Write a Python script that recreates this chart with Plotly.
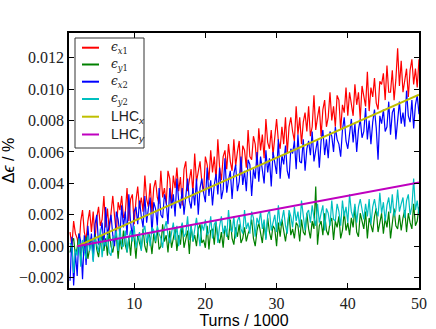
import plotly.graph_objects as go

# turns / 1000, one sample every 250 turns
turns = [1 + 0.25 * i for i in range(197)]

# emittance growth, in units of 1e-4 %
ex1 = [9, 0, 16, 8, 5, -2, 16, 23, 9, 4, 16, 23, 9, 22, 4, 18, 25, 13, 17, 32,
       12, 24, 10, 23, 32, 19, 8, 28, 23, 32, 18, 21, 37, 16, 30, 33, 14, 29, 38, 24,
       31, 22, 45, 30, 25, 40, 21, 37, 42, 31, 27, 48, 31, 37, 27, 48, 43, 26, 45, 37,
       50, 35, 44, 26, 49, 54, 35, 42, 49, 34, 59, 41, 48, 54, 41, 34, 57, 52, 42, 61,
       47, 57, 42, 68, 50, 42, 57, 61, 49, 65, 54, 48, 68, 51, 60, 67, 45, 64, 61, 50,
       74, 57, 55, 70, 65, 51, 75, 61, 71, 56, 81, 66, 62, 74, 58, 72, 81, 67, 62, 76,
       65, 82, 59, 76, 82, 73, 67, 89, 71, 82, 65, 79, 85, 73, 89, 70, 76, 96, 74, 82,
       89, 70, 87, 93, 76, 82, 98, 80, 89, 76, 96, 93, 74, 90, 85, 101, 83, 98, 90, 83,
       103, 90, 98, 81, 102, 96, 89, 111, 86, 101, 95, 107, 91, 87, 105, 103, 110, 93, 115, 98,
       98, 112, 93, 106, 126, 102, 118, 98, 106, 113, 95, 112, 119, 103, 113, 101, 119]

ey1 = [-4, 3, 5, -6, -1, 8, -8, 2, -4, 6, -8, 0, 5, -4, 8, -2, -7, 2, 7, -3,
       5, -6, 10, 0, -4, 3, 7, -8, 5, -2, 10, 1, -4, 6, -6, 9, 5, -8, 7, 2,
       -2, 11, 0, -4, 9, 5, -5, 8, 2, 11, -2, 0, 14, 3, 7, -4, 10, -1, 6, 11,
       -3, 7, 1, 14, -1, 4, 10, -5, 13, 3, 7, 0, 11, 14, 2, 4, -1, 13, -2, 10,
       11, 1, 15, 6, 2, 9, -1, 13, 9, 4, 17, 5, 1, 12, 6, 14, 2, 5, 12, 3,
       8, 11, 17, 5, 0, 10, 15, 7, 2, 14, 5, 18, 9, 4, 13, 11, 0, 15, 6, 17,
       9, 3, 12, 21, 7, 11, 5, 15, 13, 3, 17, 9, 7, 21, 11, 5, 16, 11, 38, 1,
       13, 16, 7, 21, 10, 7, 15, 18, 4, 16, 12, 19, 5, 10, 22, 10, 15, 7, 18, 12,
       25, 9, 6, 21, 16, 11, 22, 5, 18, 14, 9, 19, 24, 9, 14, 21, 8, 18, 12, 22,
       5, 17, 24, 13, 11, 20, 10, 18, 23, 9, 21, 15, 11, 27, 13, 16, 25]

ex2 = [-22, 6, -25, -4, -19, 8, 3, -21, 7, -12, 13, -1, 8, -9, 14, 20, 1, 9, 15, 0,
       25, 7, 14, 20, 7, 0, 22, 17, 7, 26, 12, 22, 7, 33, 15, 6, 22, 25, 14, 29,
       19, 12, 32, 15, 24, 31, 8, 28, 24, 13, 37, 20, 18, 33, 28, 14, 37, 24, 33, 19,
       43, 29, 24, 37, 20, 34, 43, 29, 24, 37, 26, 43, 20, 37, 43, 34, 28, 50, 32, 42,
       26, 39, 46, 33, 50, 30, 36, 56, 34, 42, 48, 30, 46, 52, 35, 41, 57, 39, 48, 35,
       55, 52, 32, 49, 43, 60, 41, 57, 48, 40, 61, 47, 56, 38, 60, 53, 46, 68, 43, 58,
       52, 64, 48, 43, 62, 59, 67, 49, 71, 54, 53, 68, 48, 62, 67, 58, 73, 54, 61, 68,
       50, 67, 74, 58, 68, 56, 73, 70, 60, 76, 68, 65, 57, 74, 82, 67, 62, 73, 81, 66,
       78, 60, 74, 81, 69, 73, 88, 68, 80, 65, 79, 87, 75, 55, 83, 78, 87, 73, 76, 92,
       71, 85, 88, 68, 83, 92, 78, 85, 76, 99, 83, 79, 93, 75, 90, 96, 84]

ey2 = [2, 0, -17, -2, -6, 5, -13, 4, -3, -8, 7, -3, 3, -10, 6, 1, -4, 11, -7, 4,
       0, 7, -4, -6, 6, 4, 10, -3, 12, 0, 0, 10, -4, 5, 10, 3, 13, -1, 4, 9,
       -3, 9, 13, 2, 8, 0, 12, 10, 3, 13, 8, 5, -1, 11, 16, 7, 2, 10, 15, 4,
       13, 0, 10, 15, 6, 8, 19, 4, 13, 3, 12, 18, 9, 0, 14, 10, 17, 7, 9, 19,
       5, 14, 16, 2, 13, 19, 8, 13, 6, 23, 11, 9, 19, 5, 16, 19, 11, 8, 23, 11,
       15, 8, 22, 18, 6, 18, 14, 22, 11, 17, 4, 20, 23, 10, 15, 20, 9, 26, 13, 17,
       23, 13, 8, 23, 19, 12, 25, 16, 22, 12, 29, 17, 10, 21, 23, 15, 26, 18, 13, 27,
       15, 21, 26, 10, 24, 21, 13, 29, 17, 16, 27, 22, 13, 29, 19, 25, 15, 33, 22, 18,
       27, 15, 25, 30, 22, 17, 27, 19, 30, 14, 25, 30, 23, 19, 34, 21, 28, 16, 26, 31,
       21, 33, 19, 23, 36, 22, 27, 31, 18, 29, 33, 20, 25, 43, 23, 29, 20]

# LHC reference growth lines (end points)
lhc_turns = [2, 50]
lhc_x = [0.0, 0.00964]
lhc_y = [0.0, 0.00406]

series = [
    ("<i>ϵ</i><sub><i>x</i>1</sub>", ex1, "#FF0000"),
    ("<i>ϵ</i><sub><i>y</i>1</sub>", ey1, "#008000"),
    ("<i>ϵ</i><sub><i>x</i>2</sub>", ex2, "#0000FF"),
    ("<i>ϵ</i><sub><i>y</i>2</sub>", ey2, "#00BFBF"),
]
lhc = [
    ("LHC<sub><i>x</i></sub>", lhc_x, "#BFBF00"),
    ("LHC<sub><i>y</i></sub>", lhc_y, "#BF00BF"),
]

fig = go.Figure()
for name, vals, col in series:
    fig.add_trace(go.Scatter(x=turns, y=[v * 1e-4 for v in vals], mode="lines", name=name,
                             line=dict(color=col, width=1.2)))
for name, vals, col in lhc:
    fig.add_trace(go.Scatter(x=lhc_turns, y=vals, mode="lines", name=name,
                             line=dict(color=col, width=2)))

# matplotlib-like legend box drawn by hand in the upper left
L, R, T, B = 69, 419, 33, 288
px = lambda v: (v - L) / (R - L)
py = lambda v: (B - v) / (B - T)
fig.add_shape(type="rect", xref="paper", yref="paper",
              x0=px(75), x1=px(144), y0=py(148), y1=py(38),
              line=dict(color="#333", width=1), fillcolor="white", layer="above")
rows = [47.7, 64.5, 81.7, 99, 116.7, 134.5]
for (name, _, col), yy in zip(series + lhc, rows):
    fig.add_shape(type="line", xref="paper", yref="paper",
                  x0=px(82), x1=px(99), y0=py(yy), y1=py(yy),
                  line=dict(color=col, width=2), layer="above")
    big = name.startswith("LHC")
    fig.add_annotation(xref="paper", yref="paper", x=px(109), y=py(yy),
                       xanchor="left", yanchor="middle", showarrow=False, text=name,
                       font=dict(family="Liberation Sans" if big else "DejaVu Serif",
                                 size=14 if big else 12, color="#222"))

axis = dict(showline=True, linecolor="black", linewidth=1.5, mirror="allticks",
            ticks="inside", ticklen=5, tickwidth=1.2, tickcolor="black",
            showgrid=False, zeroline=False, automargin=False,
            tickfont=dict(family="Liberation Serif, serif", size=16, color="#222"))

fig.update_layout(
    width=436, height=329,
    margin=dict(l=L, r=436 - R, t=T, b=329 - B),
    paper_bgcolor="white", plot_bgcolor="white",
    showlegend=False,
    xaxis=dict(axis, range=[0.85, 50], tickvals=[10, 20, 30, 40, 50],
               title=dict(text="Turns / 1000", standoff=4,
                          font=dict(family="Liberation Sans", size=16, color="black"))),
    yaxis=dict(axis, range=[-0.00266, 0.01357], tickformat=".3f",
               tickvals=[-0.002, 0.0, 0.002, 0.004, 0.006, 0.008, 0.010, 0.012],
               title=dict(text="Δ<i>ϵ</i> / %", standoff=4,
                          font=dict(family="Liberation Sans", size=16, color="black"))),
)

# the page body has a default 8px margin; drop it so the figure fills the window
fig.write_html("out.html", config={"displayModeBar": False},
               post_script="document.body.style.margin='0';document.body.style.overflow='hidden';")
